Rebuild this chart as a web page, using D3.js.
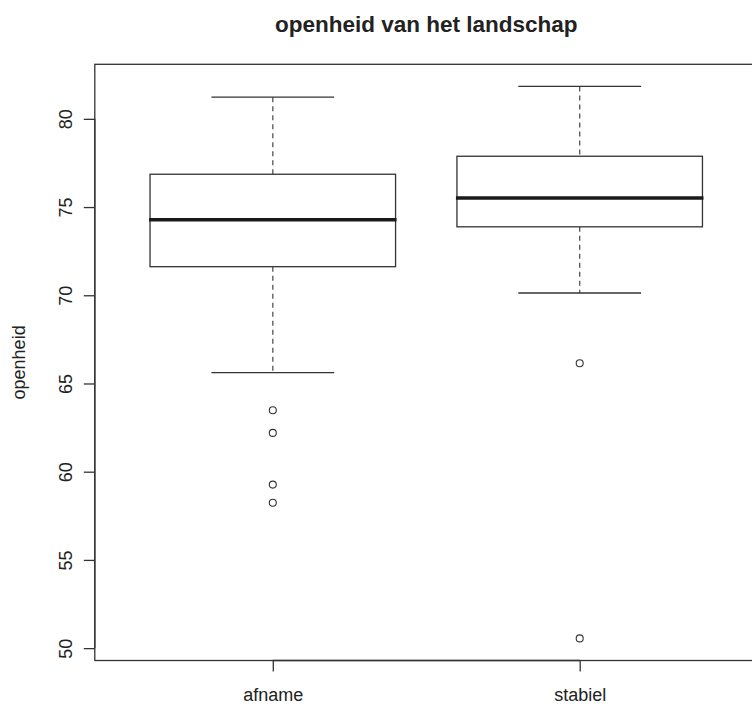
<!DOCTYPE html>
<html>
<head>
<meta charset="utf-8">
<script src="https://cdn.jsdelivr.net/npm/d3@7"></script>
<style>
  html, body { margin: 0; padding: 0; background: #fff; }
  svg { display: block; font-family: "Liberation Sans", Arial, Helvetica, sans-serif; }
</style>
</head>
<body>
<svg id="chart" width="752" height="706"></svg>
<script>
// Group names and five-number summaries of "openheid" per group
const categories = ["afname", "stabiel"];
const whiskerLow = [65.61, 70.13];
const q1 = [71.62, 73.88];
const median = [74.28, 75.51];
const q3 = [76.86, 77.88];
const whiskerHigh = [81.23, 81.84];
const outliers = [
  [63.48, 62.20, 59.27, 58.24],
  [66.15, 50.55]
];
const yTicks = [50, 55, 60, 65, 70, 75, 80];
const title = "openheid van het landschap";
const yLabel = "openheid";

const svg = d3.select("#chart");

// Plot region (right edge of the frame runs past the canvas)
const plot = { left: 94.8, right: 757.7, top: 64.3, bottom: 660.5 };

// Axis ranges extended by 4% like base graphics
const allVals = [...whiskerLow, ...whiskerHigh, ...outliers.flat()];
const [lo, hi] = d3.extent(allVals);
const pad = (hi - lo) * 0.04;
const y = d3.scaleLinear().domain([lo - pad, hi + pad]).range([plot.bottom, plot.top]);
const x = d3.scaleLinear().domain([0.42, categories.length + 0.58]).range([plot.left, plot.right]);

const ink = "#333";
const boxHalf = 0.4, capHalf = 0.2;

// Frame
svg.append("rect")
  .attr("x", plot.left).attr("y", plot.top)
  .attr("width", plot.right - plot.left).attr("height", plot.bottom - plot.top)
  .attr("fill", "none").attr("stroke", ink).attr("stroke-width", 1.3);

// Boxes
const groups = svg.append("g").selectAll("g")
  .data(categories.map((c, i) => ({ c, i, pos: i + 1 })))
  .join("g");

// dashed whiskers
groups.append("line")
  .attr("x1", d => x(d.pos)).attr("x2", d => x(d.pos))
  .attr("y1", d => y(whiskerHigh[d.i])).attr("y2", d => y(q3[d.i]))
  .attr("stroke", "#555").attr("stroke-width", 1.3).attr("stroke-dasharray", "5,4");
groups.append("line")
  .attr("x1", d => x(d.pos)).attr("x2", d => x(d.pos))
  .attr("y1", d => y(q1[d.i])).attr("y2", d => y(whiskerLow[d.i]))
  .attr("stroke", "#555").attr("stroke-width", 1.3).attr("stroke-dasharray", "5,4");

// whisker caps
["high", "low"].forEach(k => {
  groups.append("line")
    .attr("x1", d => x(d.pos - capHalf)).attr("x2", d => x(d.pos + capHalf))
    .attr("y1", d => y(k === "high" ? whiskerHigh[d.i] : whiskerLow[d.i]))
    .attr("y2", d => y(k === "high" ? whiskerHigh[d.i] : whiskerLow[d.i]))
    .attr("stroke", ink).attr("stroke-width", 1.3);
});

// box
groups.append("rect")
  .attr("x", d => x(d.pos - boxHalf))
  .attr("width", d => x(d.pos + boxHalf) - x(d.pos - boxHalf))
  .attr("y", d => y(q3[d.i]))
  .attr("height", d => y(q1[d.i]) - y(q3[d.i]))
  .attr("fill", "#fff").attr("stroke", ink).attr("stroke-width", 1.3);

// median
groups.append("line")
  .attr("x1", d => x(d.pos - boxHalf) - 1).attr("x2", d => x(d.pos + boxHalf) + 1)
  .attr("y1", d => y(median[d.i])).attr("y2", d => y(median[d.i]))
  .attr("stroke", "#1a1a1a").attr("stroke-width", 3.6);

// outlier points
groups.each(function (d) {
  d3.select(this).selectAll("circle")
    .data(outliers[d.i])
    .join("circle")
    .attr("cx", x(d.pos)).attr("cy", v => y(v))
    .attr("r", 3.5)
    .attr("fill", "none").attr("stroke", ink).attr("stroke-width", 1.1);
});

// Y axis
const yAxis = d3.axisLeft(y).tickValues(yTicks).tickSize(11).tickSizeOuter(0).tickPadding(0).tickFormat(d3.format("d"));
const gy = svg.append("g").attr("transform", `translate(${plot.left},0)`).call(yAxis);
gy.select(".domain").attr("stroke", ink).attr("stroke-width", 1.3)
  .attr("d", `M0,${y(yTicks[0])}V${y(yTicks[yTicks.length - 1])}`);
gy.selectAll(".tick line").attr("stroke", ink).attr("stroke-width", 1.3);
gy.selectAll(".tick text")
  .attr("x", null).attr("dy", null)
  .attr("transform", "translate(-23,0) rotate(-90)")
  .attr("text-anchor", "middle")
  .attr("fill", "#222")
  .style("font-size", "18px");

// X axis
const xAxis = d3.axisBottom(x).tickValues(categories.map((c, i) => i + 1))
  .tickSize(11).tickSizeOuter(0).tickPadding(0).tickFormat((d, i) => categories[i]);
const gx = svg.append("g").attr("transform", `translate(0,${plot.bottom})`).call(xAxis);
gx.select(".domain").attr("stroke", ink).attr("stroke-width", 1.3)
  .attr("d", `M${x(1)},0H${x(categories.length)}`);
gx.selectAll(".tick text")
  .attr("y", 40.5).attr("dy", null)
  .attr("fill", "#222")
  .style("font-size", "18px");
gx.selectAll(".tick line").attr("stroke", ink).attr("stroke-width", 1.3);

// Title
svg.append("text")
  .attr("x", (plot.left + plot.right) / 2).attr("y", 32)
  .attr("text-anchor", "middle")
  .attr("fill", "#222")
  .style("font-size", "22.5px").style("font-weight", "bold")
  .text(title);

// Y label
svg.append("text")
  .attr("transform", `translate(25,${(plot.top + plot.bottom) / 2}) rotate(-90)`)
  .attr("text-anchor", "middle")
  .attr("fill", "#222")
  .style("font-size", "18px")
  .text(yLabel);
</script>
</body>
</html>
